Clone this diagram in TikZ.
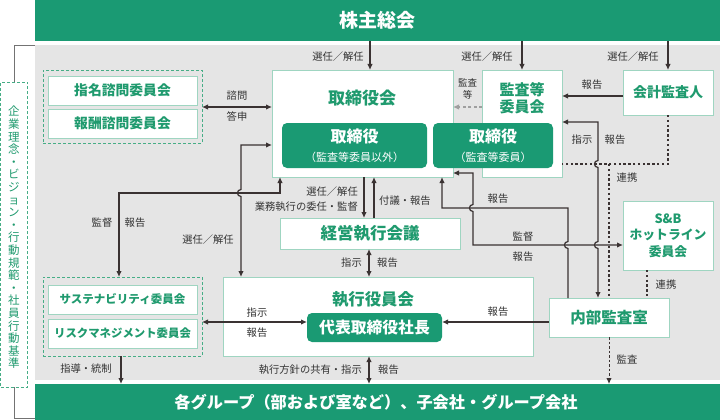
\documentclass[tikz,border=0pt]{standalone}
\usepackage{fontspec}
\setmainfont{Noto Sans CJK JP}
\usetikzlibrary{arrows.meta,calc}
\definecolor{gfill}{HTML}{1A9A73}
\definecolor{gtext}{HTML}{1F9A6E}
\definecolor{gline}{HTML}{9FD5C1}
\definecolor{gdash}{HTML}{46AD86}
\definecolor{bgc}{HTML}{E5E5E5}
\definecolor{ink}{HTML}{3A3232}
\definecolor{lbl}{HTML}{333333}
\newcommand{\myfs}[1]{\fontsize{#1}{#1}\selectfont}
\begin{document}
\begin{tikzpicture}[x=1pt,y=-1pt,
  wbox/.style={draw=gline, line width=0.9pt, fill=white, inner sep=0pt, outer sep=0pt, align=center, text=gtext},
  gbox/.style={fill=gfill, rounded corners=5pt, inner sep=0pt, outer sep=0pt, align=center, text=white},
  dbox/.style={draw=gdash, line width=0.9pt, dash pattern=on 3pt off 2pt, inner sep=0pt, outer sep=0pt},
  bar/.style={fill=gfill, inner sep=0pt, outer sep=0pt, text=white},
  lab/.style={text=lbl, inner sep=0pt, font=\myfs{10.3}},
  arr/.style={draw=ink, line width=1.2pt, -{Latex[length=6pt,width=5.5pt]}},
  darr/.style={draw=ink, line width=1.2pt, {Latex[length=6pt,width=5.5pt]}-{Latex[length=6pt,width=5.5pt]}},
  dotl/.style={draw=ink, line width=2.4pt, dash pattern=on 2.4pt off 2.4pt},
  dasharr/.style={draw=ink, line width=1pt, dash pattern=on 2.5pt off 2pt, -{Latex[length=6pt,width=5.5pt]}},
  garr/.style={draw=gray!75, line width=1.3pt, dash pattern=on 3pt off 2.5pt, -{Latex[length=6pt,width=5.5pt]}}
]
\useasboundingbox (0,0) rectangle (720,420);

% background and bars
\node[fill=bgc, inner sep=0pt, outer sep=0pt, minimum width=685pt, minimum height=335pt] (bg) at (377.5,212.5) {};
\node[bar, minimum width=685pt, minimum height=41pt] (topbar) at (377.5,20.5) {};
\node[text=white, inner sep=0pt, font=\bfseries\myfs{19}] (toptxt) at (377,20.5) {株主総会};
\node[bar, minimum width=685pt, minimum height=36pt] (botbar) at (377.5,402) {};
\node[text=white, inner sep=0pt, font=\bfseries\myfs{16.2}] (bottxt) at (376,402) {各グループ（部および室など）、子会社・グループ会社};

% left vertical box
\node[dbox, fill=white, minimum width=27pt, minimum height=305pt] (vbox) at (14,234.5) {};
\node[text=gtext, align=center, inner sep=0pt, font=\fontsize{11.5}{12.6}\selectfont] (vtxt) at (14,237.5)
 {企\\業\\理\\念\\・\\ビ\\ジ\\ョ\\ン\\・\\行\\動\\規\\範\\・\\社\\員\\行\\動\\基\\準};
\draw[gray!90!black, line width=0.9pt] (vbox.north) |- (bg.north west);
\draw[gray!90!black, line width=0.9pt] (vbox.south) |- ($(botbar.south west)+(0,-2)$);

% advisory committees
\node[dbox, minimum width=159pt, minimum height=73pt] (nomgroup) at (122.5,106.5) {};
\node[wbox, minimum width=149pt, minimum height=29pt, font=\bfseries\myfs{13.8}] (nom1) at (122.5,90.5) {指名諮問委員会};
\node[wbox, minimum width=149pt, minimum height=29pt, font=\bfseries\myfs{13.8}] (nom2) at (122.5,123.5) {報酬諮問委員会};

% board
\node[wbox, minimum width=181pt, minimum height=107pt] (tkb) at (362.5,123.5) {};
\node[text=gtext, inner sep=0pt, font=\bfseries\myfs{17}] (tkbt) at (362,98) {取締役会};
\node[wbox, minimum width=80pt, minimum height=107pt] (kansa) at (522,123.5) {};
\node[text=gtext, align=center, inner sep=0pt, font=\bfseries\fontsize{15}{17}\selectfont] (kansat) at (522,98.5) {監査等\\委員会};
\node[gbox, minimum width=145pt, minimum height=45pt, font=\bfseries\fontsize{16}{19}\selectfont] (tk1) at (354.5,145.5)
 {取締役\\{\fontsize{11}{19}\selectfont\mdseries（監査等委員以外）}};
\node[gbox, minimum width=120pt, minimum height=45pt, font=\bfseries\fontsize{16}{19}\selectfont] (tk2) at (493,145.5)
 {取締役\\{\fontsize{11}{19}\selectfont\mdseries（監査等委員）}};

\node[wbox, minimum width=90pt, minimum height=45pt, font=\bfseries\myfs{14}] (kaikei) at (668,92.5) {会計監査人};
\node[wbox, minimum width=90pt, minimum height=69pt, font=\bfseries\fontsize{12.8}{16.5}\selectfont] (sb) at (668,235.5) {S\&B\\ホットライン\\委員会};
\node[wbox, minimum width=120pt, minimum height=39pt, font=\bfseries\myfs{15.5}] (naibu) at (609,317.5) {内部監査室};

\node[wbox, minimum width=180pt, minimum height=31pt, font=\bfseries\myfs{16.5}] (keiei) at (370,233.5) {経営執行会議};
\node[wbox, minimum width=310pt, minimum height=79pt] (shikko) at (378,316.5) {};
\node[text=gtext, inner sep=0pt, font=\bfseries\myfs{16.4}] (shikkot) at (373,299) {執行役員会};
\node[gbox, minimum width=135pt, minimum height=29pt, font=\bfseries\myfs{15.8}] (ceo) at (374.5,327.5) {代表取締役社長};

\node[dbox, minimum width=159pt, minimum height=79pt] (susgroup) at (122.5,316.5) {};
\node[wbox, minimum width=149pt, minimum height=29pt, font=\bfseries\myfs{11.5}] (sus1) at (122.5,299.5) {サステナビリティ委員会};
\node[wbox, minimum width=149pt, minimum height=29pt, font=\bfseries\myfs{11.4}] (sus2) at (122.5,333.5) {リスクマネジメント委員会};

% helper coordinates
\coordinate (x119) at (119,0); \coordinate (x121) at (121,0); \coordinate (x241) at (241,0);
\coordinate (x280) at (280,0); \coordinate (x364) at (364,0); \coordinate (x369) at (369,0);
\coordinate (x370) at (370,0); \coordinate (x374) at (374,0); \coordinate (x442) at (442,0);
\coordinate (x473) at (473,0); \coordinate (x568) at (568,0); \coordinate (x598) at (598,0);
\coordinate (x609) at (609,0); \coordinate (x647) at (647,0);
\coordinate (y96) at (0,96); \coordinate (y107) at (0,107); \coordinate (y122) at (0,122);
\coordinate (y145) at (0,145); \coordinate (y164) at (0,164); \coordinate (y173) at (0,173);
\coordinate (y193) at (0,193); \coordinate (y208) at (0,208); \coordinate (y245) at (0,245);
\coordinate (y322) at (0,322);

% connectors
\draw[arr] (topbar.south -| x370) -- (tkb.north -| x370);
\draw[arr] (topbar.south -| kansa.north) -- (kansa.north);
\draw[arr] (topbar.south -| kaikei.north) -- (kaikei.north);
\draw[darr] (nomgroup.east |- y107) -- (tkb.west |- y107);
\draw[garr] (kansa.west |- y107) -- (tkb.east |- y107);
\draw[arr] (kaikei.west |- y96) -- (kansa.east |- y96);

\draw[dotl] (kaikei.south) -- (kaikei.south |- y164) -- (kansa.east |- y164);
\coordinate (j164) at (609,164);
\draw[dotl] (j164) -- (naibu.north -| x609);
\draw[dotl] (sb.south -| x647) -- (naibu.north -| x647);

\draw[darr] (kansa.east |- y122) -- (x598 |- y122) -- (598,160.5) .. controls (593.3,160.5) and (593.3,167.5) .. (598,167.5)
  -- (598,241.5) .. controls (593.3,241.5) and (593.3,248.5) .. (598,248.5) -- (naibu.north -| x598);
\draw[arr] (naibu.north -| x568) -- (568,248.5) .. controls (563.3,248.5) and (563.3,241.5) .. (568,241.5)
  -- (x568 |- y208) -- (x442 |- y208) -- (tkb.south -| x442);
\draw[darr] (tkb.east |- y173) -- (x473 |- y173) -- (473,204.5) .. controls (468.3,204.5) and (468.3,211.5) .. (473,211.5)
  -- (x473 |- y245) -- (sb.west |- y245);
\draw[arr] (naibu.west |- y322) -- (ceo.east |- y322);
\draw[dasharr] (naibu.south) -- (botbar.north -| naibu.south);

\draw[arr] (tkb.south -| x364) -- (keiei.north -| x364);
\draw[arr] (keiei.north -| x374) -- (tkb.south -| x374);
\draw[darr] (keiei.south -| x369) -- (shikko.north -| x369);
\draw[darr] (shikko.south -| x369) -- (botbar.north -| x369);
\draw[darr] (susgroup.east |- y322) -- (ceo.west |- y322);
\draw[arr] (susgroup.south -| x121) -- (botbar.north -| x121);
\draw[darr] (susgroup.north -| x119) -- (x119 |- y193) -- (x280 |- y193) -- (tkb.south -| x280);
\draw[darr] (tkb.west |- y145) -- (x241 |- y145) -- (241,189.5) .. controls (236.3,189.5) and (236.3,196.5) .. (241,196.5)
  -- (shikko.north -| x241);

% labels
\node[lab] (l1) at (338,57) {選任／解任};
\node[lab] (l2) at (487,57) {選任／解任};
\node[lab] (l3) at (633,57) {選任／解任};
\node[lab] (l4) at (237,96) {諮問};
\node[lab] (l5) at (237,117) {答申};
\node[lab, align=center, font=\fontsize{9.5}{12.5}\selectfont] (l6) at (467.5,89) {監査\\等};
\node[lab] (l7) at (592,85) {報告};
\node[lab] (l8) at (582,140) {指示};
\node[lab] (l9) at (615,140) {報告};
\node[lab] (l10) at (627,178) {連携};
\node[lab] (l11) at (666,285) {連携};
\node[lab] (l12) at (498,199) {報告};
\node[lab] (l13) at (523,237) {監督};
\node[lab] (l14) at (523,257) {報告};
\node[lab] (l15) at (498,312) {報告};
\node[lab] (l16) at (627,359) {監査};
\node[lab, anchor=east] (l17) at (358,192) {選任／解任};
\node[lab, anchor=east] (l18) at (358,207) {業務執行の委任・監督};
\node[lab, anchor=west] (l19) at (379,201) {付議・報告};
\node[lab, anchor=east] (l20) at (362,263) {指示};
\node[lab, anchor=west] (l21) at (377,263) {報告};
\node[lab, anchor=east] (l22) at (362,370) {執行方針の共有・指示};
\node[lab, anchor=west] (l23) at (378,370) {報告};
\node[lab] (l24) at (257,313) {指示};
\node[lab] (l25) at (257,333) {報告};
\node[lab] (l26) at (86,369) {指導・統制};
\node[lab] (l27) at (102,223) {監督};
\node[lab] (l28) at (135,223) {報告};
\node[lab] (l29) at (208,240) {選任／解任};
\end{tikzpicture}
\end{document}
